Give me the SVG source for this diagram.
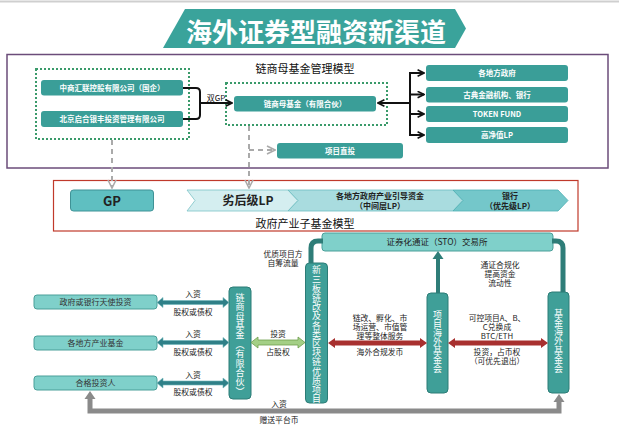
<svg xmlns="http://www.w3.org/2000/svg" width="619" height="428" viewBox="0 0 619 428">
<style>
text{font-family:"Noto Sans CJK SC","Noto Sans",sans-serif;}
.dk{fill:#3a9e98;}
.nt{fill:#fff;font-size:7.5px;font-weight:bold;text-anchor:middle;}
.lt{fill:#7fd0ca;stroke:#4a9f99;stroke-width:1;}
.ltt{fill:#333;font-size:8px;text-anchor:middle;}
.lbl{fill:#222;font-size:7.8px;text-anchor:middle;}
.vn{fill:#3f9f98;stroke:#2c7c76;stroke-width:1;}
.vt{fill:#fff;font-size:9px;text-anchor:middle;writing-mode:vertical-rl;text-orientation:upright;}
.dot{fill:none;stroke:#3a9a6a;stroke-width:2;stroke-dasharray:2 2;}
.blk{fill:none;stroke:#111;stroke-width:2;}
.gd{fill:none;stroke:#aaa;stroke-width:2;stroke-dasharray:5 4;}
.tar{fill:#2f8088;stroke:#6fb7bb;stroke-width:0.6;}
.rar{fill:#a8302f;}
.cv{font-size:8px;font-weight:bold;fill:#222;text-anchor:middle;}
</style>
<defs>
<marker id="ab" viewBox="0 0 10 10" refX="9" refY="5" markerWidth="4" markerHeight="4" orient="auto-start-reverse" markerUnits="strokeWidth">
<path d="M1,1 L9,5 L1,9" fill="none" stroke="#111" stroke-width="2"/>
</marker>
<marker id="ag" viewBox="0 0 10 10" refX="9" refY="5" markerWidth="5" markerHeight="5" orient="auto" markerUnits="strokeWidth">
<path d="M1,1 L9,5 L1,9" fill="none" stroke="#aaa" stroke-width="1.6"/>
</marker>
</defs>
<rect width="619" height="428" fill="#fff"/>
<line x1="0" y1="1.5" x2="619" y2="1.5" stroke="#cfcfcf" stroke-width="2"/>

<g id="title">
<polygon points="185,9 455,9 466,28.5 455,48 163,48" fill="#3aa39b"/>
<text x="316" y="42" fill="#fff" font-size="26" font-weight="bold" text-anchor="middle">海外证券型融资新渠道</text>
</g>

<g id="frame-top">
<rect x="7" y="54.5" width="601" height="113.5" fill="none" stroke="#6b4c7a" stroke-width="1.5"/>
<text x="305" y="73" font-size="11" fill="#111" text-anchor="middle">链商母基金管理模型</text>
</g>
<g id="frame-gov">
<rect x="53.5" y="180.5" width="524.5" height="50.5" fill="none" stroke="#c0392b" stroke-width="1.2"/>
<text x="305" y="228" font-size="11" fill="#111" text-anchor="middle">政府产业子基金模型</text>
</g>

<g id="gp-group">
<rect class="dot" x="36" y="69" width="153" height="70"/>
</g>
<g id="n-zhongshang">
<rect class="dk" x="41" y="80" width="142" height="15.5" rx="3"/>
<text class="nt" x="112" y="90.5">中商汇联控股有限公司（国企）</text>
</g>
<g id="n-beijing">
<rect class="dk" x="41" y="111" width="142" height="16" rx="3"/>
<text class="nt" x="112" y="121.8">北京启合银丰投资管理有限公司</text>
</g>
<g id="mother-group">
<rect class="dot" x="226" y="83" width="161" height="42"/>
</g>
<g id="n-mother">
<rect class="dk" x="234" y="96" width="142" height="15.5" rx="3"/>
<text class="nt" x="305" y="106.5">链商母基金（有限合伙）</text>
</g>
<g id="n-gov">
<rect class="dk" x="426" y="65" width="142" height="16" rx="3"/>
<text class="nt" x="497" y="75.8">各地方政府</text>
</g>
<g id="n-fin">
<rect class="dk" x="426" y="87" width="142" height="15.5" rx="3"/>
<text class="nt" x="497" y="97.5">古典金融机构、银行</text>
</g>
<g id="n-token">
<rect class="dk" x="426" y="106" width="142" height="16" rx="3"/>
<text class="nt" x="497" y="116.8" font-family="Liberation Sans,sans-serif">TOKEN FUND</text>
</g>
<g id="n-hnw">
<rect class="dk" x="426" y="127" width="142" height="16" rx="3"/>
<text class="nt" x="497" y="137.8">高净值LP</text>
</g>
<g id="n-direct">
<rect class="dk" x="277" y="143" width="126" height="15.5" rx="3"/>
<text class="nt" x="340" y="153.5">项目直投</text>
</g>

<g id="n-gp">
<rect x="70.5" y="190" width="83" height="21" rx="3" fill="#5fbfc1" stroke="#3f9296" stroke-width="1"/>
<text x="112" y="205.5" font-size="13" font-weight="bold" fill="#222" text-anchor="middle" font-family="Liberation Sans,sans-serif">GP</text>
</g>
<g id="n-sub">
<polygon points="187,190 288,190 298,200.5 288,211 187,211 195,200.5" fill="#d4eef0" stroke="#7cc3c6" stroke-width="0.8"/>
<text x="248" y="205" font-size="12" font-weight="bold" fill="#222" text-anchor="middle">劣后级LP</text>
</g>
<g id="n-mid">
<polygon points="288,190 453,190 463,200.5 453,211 288,211 298,200.5" fill="#a9dcdf" stroke="#6cbcc0" stroke-width="0.8"/>
<text class="cv" x="380" y="199">各地方政府产业引导资金<tspan x="380" dy="10">（中间层LP）</tspan></text>
</g>
<g id="n-senior">
<polygon points="453,190 558,190 568,200.5 558,211 453,211 463,200.5" fill="#74c7ca" stroke="#4fb0b4" stroke-width="0.8"/>
<text class="cv" x="510" y="199">银行<tspan x="510" dy="10">（优先级LP）</tspan></text>
</g>

<g id="n-sto">
<rect x="322" y="233" width="231" height="18" rx="3" fill="#7fd0ca" stroke="#4a9f99" stroke-width="1"/>
<text x="437" y="245" font-size="8.5" fill="#222" text-anchor="middle">证券化通证（STO）交易所</text>
</g>
<g id="n-angel">
<rect class="lt" x="34" y="295" width="123" height="14" rx="3"/>
<text class="ltt" x="95.5" y="305">政府或银行天使投资</text>
</g>
<g id="n-ind">
<rect class="lt" x="34" y="336" width="123" height="14" rx="3"/>
<text class="ltt" x="95.5" y="346">各地方产业基金</text>
</g>
<g id="n-qual">
<rect class="lt" x="34" y="376" width="123" height="14" rx="3"/>
<text class="ltt" x="95.5" y="386">合格投资人</text>
</g>
<g id="n-mother-v">
<rect class="vn" x="229" y="287" width="22" height="112" rx="4"/>
<text class="vt" x="240" y="344.5" letter-spacing="0.4">链商母基金︵有限合伙︶</text>
</g>
<g id="n-proj">
<rect class="vn" x="305.5" y="263" width="22" height="140" rx="4"/>
<text class="vt" x="316.5" y="334.4" letter-spacing="0.2">新三板链改及各类区块链优质项目</text>
</g>
<g id="n-projfund">
<rect class="vn" x="427" y="293" width="21" height="100" rx="4"/>
<text class="vt" x="437.5" y="341.5" font-size="9.5">项目海外基金会</text>
</g>
<g id="n-fundfund">
<rect class="vn" x="548" y="292" width="21" height="101" rx="4"/>
<text class="vt" x="558.5" y="341" font-size="9.5" letter-spacing="0.2">基金海外基金会</text>
</g>

<g id="connectors">
<path class="blk" d="M183,88 H196 Q200,88 200,92 V115 Q200,119 196,119 H183"/>
<line class="blk" x1="200" y1="103" x2="232" y2="103" marker-end="url(#ab)"/>
<text x="216" y="100.5" font-size="8" fill="#111" text-anchor="middle" font-family="Liberation Sans,sans-serif">双GP</text>
<line class="blk" x1="410" y1="103" x2="378" y2="103" marker-end="url(#ab)"/>
<line class="blk" x1="410" y1="73" x2="410" y2="135"/>
<line class="blk" x1="409" y1="73" x2="424" y2="73" marker-end="url(#ab)"/>
<line class="blk" x1="409" y1="94.5" x2="424" y2="94.5" marker-end="url(#ab)"/>
<line class="blk" x1="409" y1="114" x2="424" y2="114" marker-end="url(#ab)"/>
<line class="blk" x1="409" y1="135" x2="424" y2="135" marker-end="url(#ab)"/>

<line class="gd" x1="112" y1="140" x2="112" y2="188" marker-end="url(#ag)"/>
<line class="gd" x1="249" y1="126" x2="249" y2="188" marker-end="url(#ag)"/>
<line class="gd" x1="249" y1="150" x2="275" y2="150" marker-end="url(#ag)"/>

<polygon class="tar" points="157,302.5 163,297.5 163,300.5 223,300.5 223,297.5 229,302.5 223,307.5 223,304.5 163,304.5 163,307.5"/>
<polygon class="tar" points="157,342.5 163,337.5 163,340.5 223,340.5 223,337.5 229,342.5 223,347.5 223,344.5 163,344.5 163,347.5"/>
<polygon class="tar" points="157,383 163,378 163,381 223,381 223,378 229,383 223,388 223,385 163,385 163,388"/>
<text class="lbl" x="193" y="297">入资</text>
<text class="lbl" x="193" y="314.5">股权或债权</text>
<text class="lbl" x="193" y="337">入资</text>
<text class="lbl" x="193" y="354.5">股权或债权</text>
<text class="lbl" x="193" y="377.5">入资</text>
<text class="lbl" x="193" y="395">股权或债权</text>

<polygon points="251,342.5 258,337 258,340 298,340 298,337 305,342.5 298,348 298,345 258,345 258,348" fill="#a4cf86" stroke="#6e9e4d" stroke-width="0.8"/>
<text class="lbl" x="278" y="337">投资</text>
<text class="lbl" x="278" y="354.5">占股权</text>

<text class="lbl" x="283" y="257">优质项目方<tspan x="283" dy="9">自筹流量</tspan></text>

<path d="M311,263 V248 Q311,241 318,241 H323" fill="none" stroke="#2e7d78" stroke-width="5"/>
<path d="M563,292 V248 Q563,241 556,241 H552" fill="none" stroke="#2e7d78" stroke-width="5"/>
<line x1="438" y1="293" x2="438" y2="258" stroke="#2e7d78" stroke-width="4"/>
<polygon points="438,251 432.5,259 443.5,259" fill="#2e7d78"/>

<polygon class="rar" points="328,343 335,338 335,340.5 420,340.5 420,338 427,343 420,348 420,345.5 335,345.5 335,348"/>
<polygon class="rar" points="448,343 455,338 455,340.5 541,340.5 541,338 548,343 541,348 541,345.5 455,345.5 455,348"/>
<text class="lbl" x="380" y="320.5">链改、孵化、市<tspan x="380" dy="9">场运营、市值管</tspan><tspan x="380" dy="9">理等整体服务</tspan></text>
<text class="lbl" x="380" y="354.5">海外合规发币</text>
<text class="lbl" x="497" y="320.5">可控项目A、B、<tspan x="497" dy="9">C兑换成</tspan><tspan x="497" dy="9">BTC/ETH</tspan></text>
<text class="lbl" x="497" y="355">投资，占币权<tspan x="497" dy="9">（可优先退出）</tspan></text>
<text class="lbl" x="500" y="268">通证合规化<tspan x="500" dy="9">提高资金</tspan><tspan x="500" dy="9">流动性</tspan></text>

<polyline points="90,398 90,411 559,411 559,398" fill="none" stroke="#8a8a8a" stroke-width="5"/>
<polygon points="90,391 84.5,399 95.5,399" fill="#8a8a8a"/>
<polygon points="559,394 553.5,402 564.5,402" fill="#8a8a8a"/>
<text class="lbl" x="279" y="407">入资</text>
<text class="lbl" x="279" y="423">赠送平台币</text>
</g>
</svg>
